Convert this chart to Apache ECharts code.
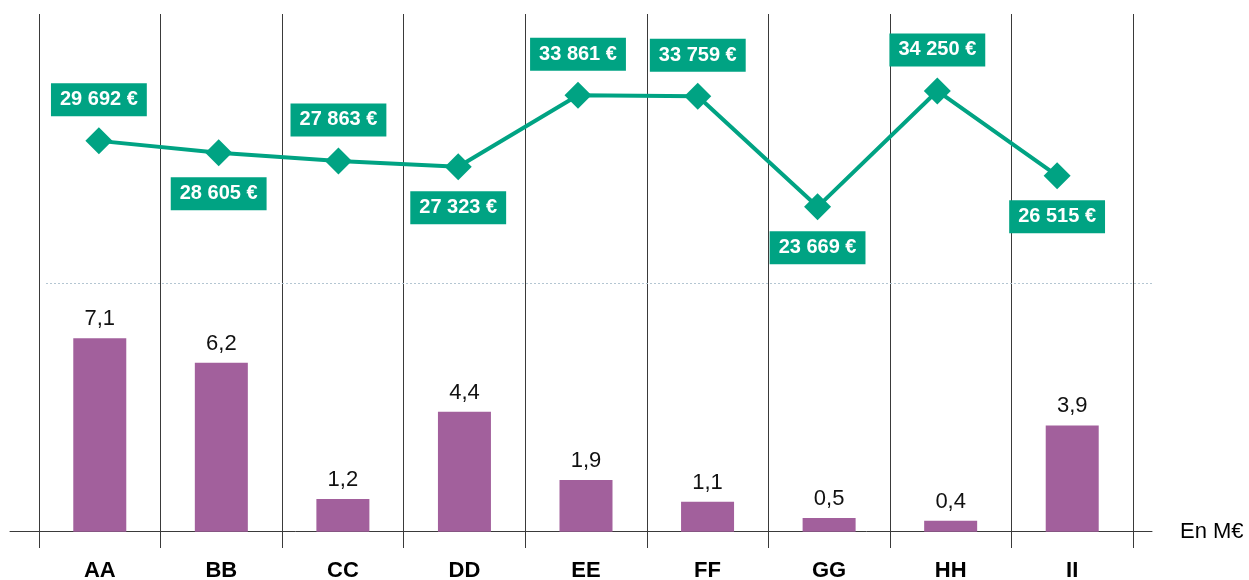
<!DOCTYPE html>
<html>
<head>
<meta charset="utf-8">
<script src="https://cdn.jsdelivr.net/npm/echarts@6/dist/echarts.min.js"></script>
<style>
  html, body { margin: 0; padding: 0; background: #fff; }
  #chart { width: 1249px; height: 580px; }
</style>
</head>
<body>
<div id="chart"></div>
<script>
const categories = ["AA", "BB", "CC", "DD", "EE", "FF", "GG", "HH", "II"];
const amounts = [7.1, 6.2, 1.2, 4.4, 1.9, 1.1, 0.5, 0.4, 3.9]; // M€
const averages = [29692, 28605, 27863, 27323, 33861, 33759, 23669, 34250, 26515]; // €
const labelSide = ["top", "bottom", "top", "bottom", "top", "top", "bottom", "top", "bottom"];
const separatorValue = 9.1;
const unitLabel = "En M€";

const font = '"Liberation Sans Narrow", "Arial Narrow", "Liberation Sans", sans-serif';
const green = "#00A383";
const purple = "#A2609C";

function frNumber(v) {
  return String(v).replace(/\B(?=(\d{3})+(?!\d))/g, " ");
}

const chart = echarts.init(document.getElementById("chart"));

chart.setOption({
  animation: false,
  grid: [
    { left: 39, width: 1094, top: 14, bottom: 32, outerBoundsMode: "none" },   // bars
    { left: 39, width: 1078, top: 28, height: 219, outerBoundsMode: "none" },  // line
    { left: 10, right: 97, top: 14, bottom: 32, outerBoundsMode: "none" },     // baseline
    { left: 46, right: 97, top: 14, bottom: 32, outerBoundsMode: "none" }      // dotted separator
  ],
  xAxis: [
    {
      type: "category",
      gridIndex: 0,
      data: categories,
      boundaryGap: true,
      axisLine: { show: false, onZero: false },
      axisTick: { show: false },
      splitLine: { show: true, lineStyle: { color: "#3a3a3a", width: 1 } },
      axisLabel: {
        margin: 12,
        color: "#000",
        fontFamily: font,
        fontWeight: "bold",
        fontSize: 22
      }
    },
    { type: "category", gridIndex: 1, data: categories, show: false },
    {
      type: "value",
      gridIndex: 2,
      min: 0,
      max: 1,
      axisLine: { show: true, onZero: true, lineStyle: { color: "#3a3a3a", width: 1 } },
      axisTick: { show: false },
      axisLabel: { show: false },
      splitLine: { show: false },
      name: unitLabel,
      nameLocation: "end",
      nameGap: 28,
      nameTextStyle: { color: "#000", fontFamily: font, fontSize: 22, verticalAlign: "middle" }
    },
    { type: "value", gridIndex: 3, min: 0, max: 1, show: false }
  ],
  yAxis: [
    { type: "value", gridIndex: 0, min: -0.6, max: 19, show: false },
    { type: "value", gridIndex: 1, min: 20000, max: 40000, show: false },
    { type: "value", gridIndex: 2, min: -0.6, max: 19, show: false },
    { type: "value", gridIndex: 3, min: -0.6, max: 19, show: false }
  ],
  series: [
    {
      type: "bar",
      xAxisIndex: 0,
      yAxisIndex: 0,
      data: amounts,
      barWidth: 53,
      itemStyle: { color: purple },
      label: {
        show: true,
        position: "top",
        distance: 8,
        color: "#111",
        fontFamily: font,
        fontSize: 22,
        formatter: p => String(p.value).replace(".", ",")
      },
      z: 3
    },
    {
      type: "line",
      xAxisIndex: 3,
      yAxisIndex: 3,
      data: [],
      markLine: {
        silent: true,
        symbol: "none",
        label: { show: false },
        lineStyle: { color: "#b4c6d2", type: [2, 2], width: 1 },
        data: [{ yAxis: separatorValue }]
      }
    },
    {
      type: "line",
      xAxisIndex: 1,
      yAxisIndex: 1,
      data: averages.map((v, i) => ({
        value: v,
        label: { position: labelSide[i] }
      })),
      symbol: "diamond",
      symbolSize: 27,
      lineStyle: { color: green, width: 4 },
      itemStyle: { color: green },
      label: {
        show: true,
        distance: 11,
        backgroundColor: green,
        color: "#fff",
        fontFamily: font,
        fontWeight: "bold",
        fontSize: 20,
        lineHeight: 21,
        padding: [6, 9, 6, 9],
        formatter: p => frNumber(p.value) + " €"
      },
      z: 5
    }
  ]
});
</script>
</body>
</html>
